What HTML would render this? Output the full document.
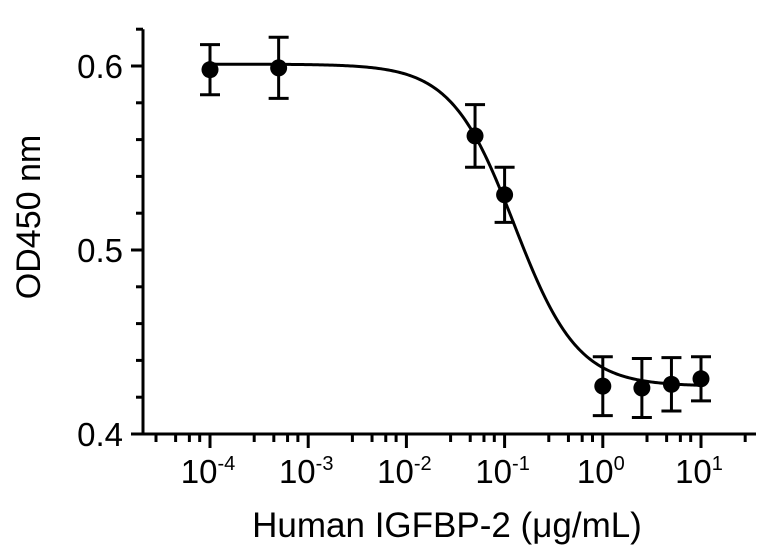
<!DOCTYPE html>
<html><head><meta charset="utf-8"><style>
body{margin:0;background:#fff}
svg{display:block;font-family:"Liberation Sans",Arial,sans-serif}
</style></head><body>
<svg id="chart" width="767" height="558" viewBox="0 0 767 558" xmlns="http://www.w3.org/2000/svg">
<g id="axes"></g>
<g id="curve"></g>
<g id="points"></g>
<text transform="translate(40,217) rotate(-90)" text-anchor="middle" font-size="34" fill="#000">OD450 nm</text>
<text x="447" y="537" text-anchor="middle" font-size="35" fill="#000">Human IGFBP-2 (μg/mL)</text>
</svg>
<script>
const concentrations=[0.0001,0.0005,0.05,0.1,1,2.5,5,10];
const odValues=[0.598,0.599,0.562,0.530,0.426,0.425,0.427,0.430];
const errValues=[0.0136,0.0166,0.017,0.015,0.016,0.016,0.0145,0.012];
const yTicks=[0.4,0.5,0.6];
const yTickLabels=["0.4","0.5","0.6"];
const xDecades=[-4,-3,-2,-1,0,1];
const fitTop=0.601, fitBottom=0.426, fitIC50=0.126, fitHill=1.35;

const NS="http://www.w3.org/2000/svg";
function X(v){return 210+(Math.log10(v)+4)*98.2;}
function Y(v){return 434-(v-0.4)*1840;}
function mk(tag,attrs,parent){const e=document.createElementNS(NS,tag);for(const k in attrs)e.setAttribute(k,attrs[k]);parent.appendChild(e);return e;}
const axes=document.getElementById('axes');
const st={stroke:'#000','stroke-width':3,fill:'none'};
let yl=mk('line',Object.assign({x1:143,y1:Y(0.62),x2:143,y2:435},st),axes);


let xl=mk('line',Object.assign({x1:142,y1:434,x2:756,y2:434},st),axes);


for(let v=0.42;v<=0.621;v+=0.02){
  const t=mk('line',Object.assign({x1:136,y1:Y(v),x2:143,y2:Y(v)},st),axes);
  
  
}
yTicks.forEach((v,i)=>{
  const t=mk('line',Object.assign({x1:131,y1:Y(v),x2:143,y2:Y(v)},st),axes);
  
  
  const tx=mk('text',{x:123,y:Y(v)+12,'text-anchor':'end','font-size':33,fill:'#000'},axes);
  tx.textContent=yTickLabels[i];
  
  
});
const minorOffsets=[-0.55,-0.35,-0.21,-0.105];
[-4,-3,-2,-1,0,1,2].forEach(d=>{
  minorOffsets.forEach(o=>{
    const x=X(Math.pow(10,d+o));
    if(x<146||x>752)return;
    const t=mk('line',Object.assign({x1:x,y1:434,x2:x,y2:442},st),axes);
    
    
  });
});
xDecades.forEach(d=>{
  const x=X(Math.pow(10,d));
  const t=mk('line',Object.assign({x1:x,y1:434,x2:x,y2:448},st),axes);
  
  
  const tx=mk('text',{x:x-2,y:483,'text-anchor':'middle','font-size':33,fill:'#000'},axes);
  
  
  tx.appendChild(document.createTextNode('10'));
  const sp=mk('tspan',{dy:-13,'font-size':20},tx);
  sp.textContent=String(d);
});
const cg=document.getElementById('curve');
let dstr='';
const lo=Math.log10(concentrations[0]),hi=Math.log10(concentrations[concentrations.length-1]);
for(let i=0;i<=300;i++){
  const lx=lo+(hi-lo)*i/300, c=Math.pow(10,lx);
  const y=fitBottom+(fitTop-fitBottom)/(1+Math.pow(c/fitIC50,fitHill));
  dstr+=(i?'L':'M')+X(c).toFixed(2)+' '+Y(y).toFixed(2);
}
const p=mk('path',{d:dstr,stroke:'#000','stroke-width':3,fill:'none'},cg);


const pg=document.getElementById('points');
concentrations.forEach((c,i)=>{
  const x=X(c),y=odValues[i],e=errValues[i];
  const g=mk('g',{},pg);
  
  
  mk('line',Object.assign({x1:x,y1:Y(y+e),x2:x,y2:Y(y-e)},st),g);
  mk('line',Object.assign({x1:x-10,y1:Y(y+e),x2:x+10,y2:Y(y+e)},st),g);
  mk('line',Object.assign({x1:x-10,y1:Y(y-e),x2:x+10,y2:Y(y-e)},st),g);
  mk('circle',{cx:x,cy:Y(y),r:8.5,fill:'#000'},g);
});
</script>
</body></html>
